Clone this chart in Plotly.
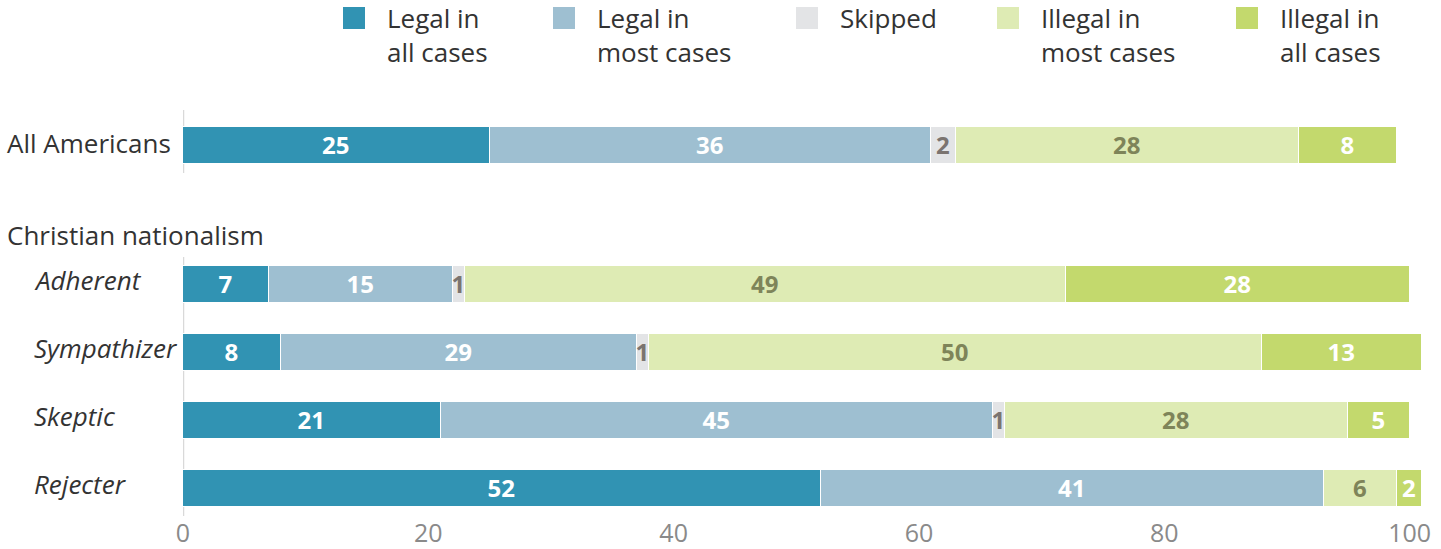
import plotly.graph_objects as go

# Dados
grupos = ["All Americans", "Adherent", "Sympathizer", "Skeptic", "Rejecter"]
respostas = ["Legal in<br>all cases", "Legal in<br>most cases", "Skipped",
             "Illegal in<br>most cases", "Illegal in<br>all cases"]

legal_todos = [25, 7, 8, 21, 52]
legal_maioria = [36, 15, 29, 45, 41]
pulou = [2, 1, 1, 1, 0]
ilegal_maioria = [28, 49, 50, 28, 6]
ilegal_todos = [8, 28, 13, 5, 2]

x_ticks = [0, 20, 40, 60, 80, 100]

series = [legal_todos, legal_maioria, pulou, ilegal_maioria, ilegal_todos]
cores = ["#3193b3", "#9ebfd1", "#e3e4e6", "#deebb4", "#c3d96d"]
cores_texto = ["white", "white", "#7b7470", "#7e8459", "white"]

# posicao das linhas (layout)
linhas = [0, 2.04, 3.04, 4.04, 5.04]

# Geometria em pixels
L, R, T, B = 183, 13, 100, 33
W = 1441 - L - R
H = 549 - T - B


def px_x(px):
    return (px - L) / W


def px_y(py):
    return (549 - B - py) / H


fig = go.Figure()
for i in range(len(series)):
    vals = series[i]
    fig.add_trace(go.Bar(
        y=linhas, x=vals, orientation="h", name=respostas[i],
        marker=dict(color=cores[i], line=dict(color="white", width=1.5)),
        width=0.54,
        text=[str(v) if v else "" for v in vals],
        textposition="inside", insidetextanchor="middle", constraintext="none",
        textangle=0,
        textfont=dict(family="Open Sans", size=24, color=cores_texto[i], weight="bold"),
        showlegend=False, hoverinfo="skip",
    ))

fig.update_layout(
    barmode="stack",
    width=1441, height=549,
    margin=dict(l=L, r=R, t=T, b=B, autoexpand=False),
    plot_bgcolor="white", paper_bgcolor="white",
    font=dict(family="Open Sans", color="#333333"),
    bargap=0,
)
fig.update_xaxes(range=[0, 101.5], tickvals=x_ticks, showgrid=False, zeroline=False,
                 showline=False, ticks="", tickfont=dict(size=25, color="#8a8a8a"))
fig.update_yaxes(range=[5.449, -0.669], showticklabels=False, showgrid=False,
                 zeroline=False, showline=False)

# linha do zero em dois pedacos
fig.add_shape(type="line", xref="x", yref="y", x0=0, x1=0, y0=-0.522, y1=0.404,
              line=dict(color="#d9d9d9", width=2.5), layer="below")
fig.add_shape(type="line", xref="x", yref="y", x0=0, x1=0, y0=1.64, y1=5.449,
              line=dict(color="#d9d9d9", width=2.5), layer="below")

# rotulos das linhas
for i, g in enumerate(grupos):
    if i == 0:
        fig.add_annotation(x=px_x(5), xref="paper", y=linhas[i], yref="y", text=g,
                           showarrow=False, xanchor="left", yshift=2,
                           font=dict(size=26, color="#333333"))
    else:
        fig.add_annotation(x=px_x(32), xref="paper", y=linhas[i], yref="y",
                           text="<i>" + g + "</i>", showarrow=False, xanchor="left",
                           yshift=4, font=dict(size=26, color="#333333"))
fig.add_annotation(x=px_x(5), xref="paper", y=1.316, yref="y", text="Christian nationalism",
                   showarrow=False, xanchor="left", font=dict(size=26, color="#333333"))

# legenda manual
leg_x = [343, 553, 796, 997, 1236]
for i in range(len(respostas)):
    fig.add_shape(type="rect", xref="paper", yref="paper",
                  x0=px_x(leg_x[i]), x1=px_x(leg_x[i] + 22),
                  y0=px_y(29), y1=px_y(7),
                  fillcolor=cores[i], line=dict(width=0))
    fig.add_annotation(x=px_x(leg_x[i] + 42), xref="paper", y=px_y(-2), yref="paper",
                       text=respostas[i], showarrow=False, xanchor="left", yanchor="top",
                       align="left", font=dict(size=26, color="#333333"))

fig.write_html("out.html", config={"displayModeBar": False},
               post_script="document.body.style.margin='0';")
